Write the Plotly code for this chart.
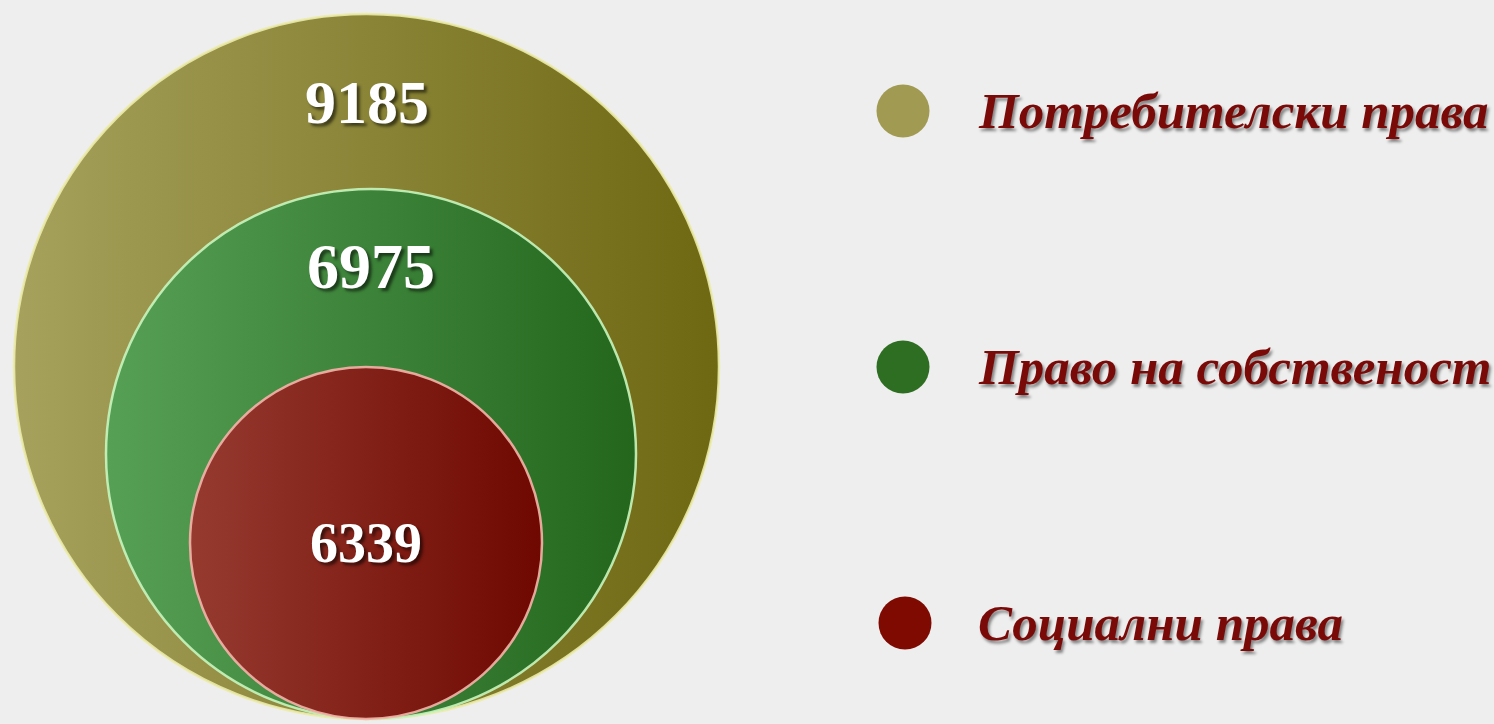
import plotly.graph_objects as go

# ---- data ----
categories = ["Потребителски права", "Право на собственост", "Социални права"]
values = [9185, 6975, 6339]

# ---- styling / layout constants ----
W, H = 1494, 724
radii = [352.5, 265, 176]          # nested circle radii (px), not proportional in original
centers_x = [366.5, 371, 366]
bottom_y = 719
left_colors = ["#a6a15c", "#56a056", "#963a30"]
right_colors = ["#6e6812", "#23661c", "#6e0800"]
rim_colors = ["rgba(235,235,170,0.9)", "rgba(200,245,190,0.9)", "rgba(245,180,170,0.9)"]
legend_colors = ["#a19a52", "#2e6e22", "#7e0a02"]
legend_x = [903, 903, 905]
legend_y = [111, 367, 623]
legend_text_x = 976
label_offset = [-265, -188, 0]     # label y relative to circle centre (px)
label_sizes = [62, 64, 56]

fig = go.Figure()

for i, (cat, val) in enumerate(zip(categories, values)):
    r = radii[i]
    cx = centers_x[i]
    cy = bottom_y - r
    fig.add_trace(go.Scatter(
        x=[cx], y=[cy], mode="markers",
        marker=dict(size=2 * r, color=left_colors[i],
                    gradient=dict(type="horizontal", color=right_colors[i]),
                    line=dict(color=rim_colors[i], width=2.5)),
        hoverinfo="skip", showlegend=False))
    fig.add_annotation(
        x=cx, y=cy + label_offset[i], text=f"<b>{val}</b>",
        showarrow=False, xanchor="center", yanchor="middle",
        font=dict(family="Liberation Serif", size=label_sizes[i], color="white",
                  shadow="3px 3px 3px rgba(0,0,0,0.55)"))

# legend markers
fig.add_trace(go.Scatter(
    x=legend_x, y=legend_y, mode="markers",
    marker=dict(size=53, color=legend_colors, line=dict(width=0)),
    hoverinfo="skip", showlegend=False))
for i, cat in enumerate(categories):
    fig.add_annotation(
        x=legend_text_x, y=legend_y[i], text=f"<b><i>{cat}</i></b>",
        showarrow=False, xanchor="left", yanchor="middle",
        font=dict(family="Liberation Serif", size=51, color="#7a0a08",
                  shadow="2px 3px 3px rgba(0,0,0,0.45)"))

fig.update_layout(
    width=W, height=H,
    margin=dict(l=0, r=0, t=0, b=0),
    paper_bgcolor="#efeeee", plot_bgcolor="#efeeee",
    xaxis=dict(range=[0, W], visible=False, fixedrange=True),
    yaxis=dict(range=[H, 0], visible=False, fixedrange=True),
)

fig.write_html("out.html", config={"displayModeBar": False},
               post_script="document.body.style.margin='0';")
